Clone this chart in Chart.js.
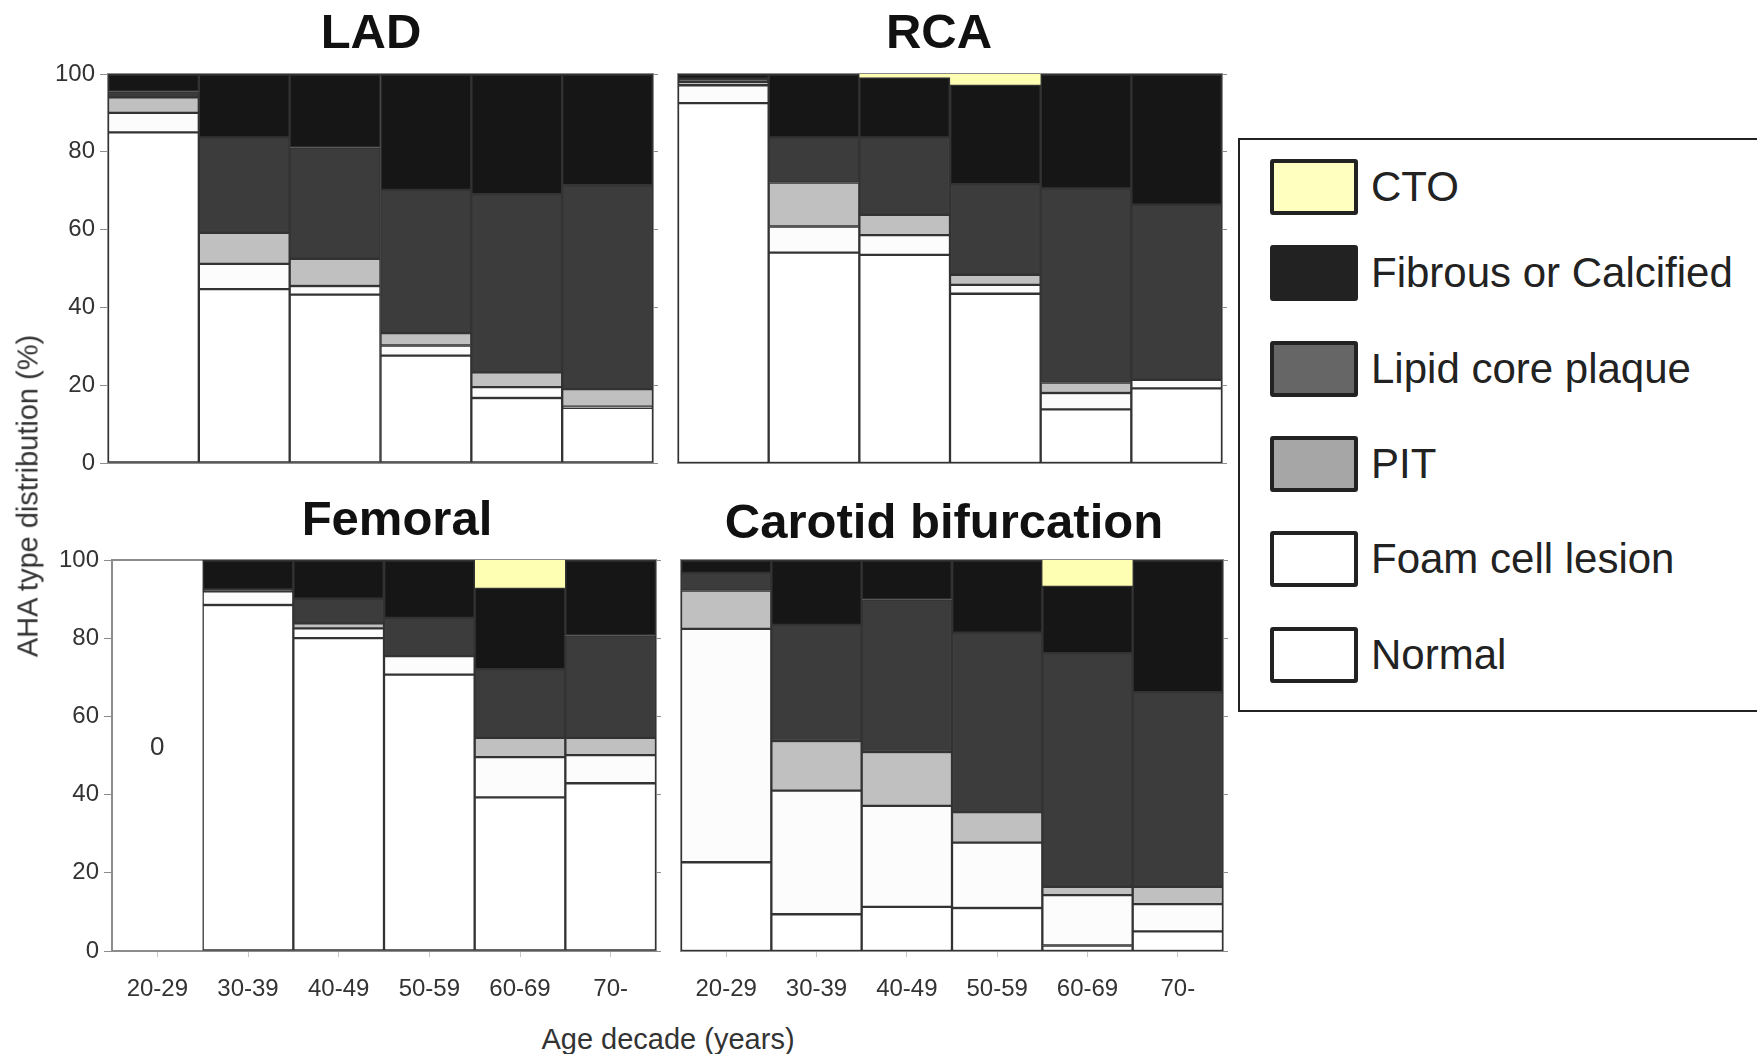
<!DOCTYPE html>
<html>
<head>
<meta charset="utf-8">
<script src="https://cdn.jsdelivr.net/npm/chart.js@4.4.1/dist/chart.umd.min.js"></script>
<style>
    body {
        margin: 0;
        background: #fff;
        width: 1757px;
        height: 1054px;
        overflow: hidden;
        position: relative;
        font-family: "Liberation Sans", Arial, sans-serif;
        color: #333;
    }
    canvas {
        position: absolute;
    }
    .panel-title {
        position: absolute;
        font-weight: bold;
        font-size: 49px;
        line-height: 1;
        color: #111;
        white-space: nowrap;
        transform: translate(-50%, -50%);
    }
    .axis-title {
        position: absolute;
        font-size: 29px;
        line-height: 1;
        white-space: nowrap;
        transform: translate(-50%, -50%);
    }
    #legend {
        position: absolute;
        left: 1238px;
        top: 138px;
        width: 600px;
        height: 570px;
        border: 2px solid #222;
    }
    .legend-item {
        position: absolute;
        left: 30px;
        height: 56px;
        display: flex;
        align-items: center;
        transform: translateY(-50%);
    }
    .legend-swatch {
        width: 80px;
        height: 48px;
        border: 4px solid #222;
        border-radius: 3px;
    }
    .legend-label {
        margin-left: 13px;
        font-size: 42px;
        color: #222;
        white-space: nowrap;
    }
</style>
</head>
<body>
<div id="legend"></div>
<script>
// age decades on the x axis
const ageGroups = ["20-29", "30-39", "40-49", "50-59", "60-69", "70-"];
const yTicks = [0, 20, 40, 60, 80, 100];

// series, bottom of the stack first
const seriesNames = ["Normal", "Foam cell lesion", "PIT", "Lipid core plaque", "Fibrous or Calcified", "CTO"];
const seriesColors = ["#ffffff", "#fcfcfc", "#c0c0c0", "#3c3c3c", "#161616", "#ffffb3"];

// legend, top to bottom as printed
const legendNames = ["CTO", "Fibrous or Calcified", "Lipid core plaque", "PIT", "Foam cell lesion", "Normal"];
const legendColors = ["#ffffc0", "#222222", "#666666", "#a6a6a6", "#ffffff", "#ffffff"];

// LAD (%)
const ladNormal = [85, 44.7, 43.3, 27.6, 16.7, 14.2];
const ladFoam = [5, 6.5, 2.2, 2.6, 2.8, 0.3];
const ladPit = [4, 8, 7, 3.2, 3.8, 4.5];
const ladLipid = [1.5, 24.5, 28.6, 36.8, 45.8, 52.4];
const ladFibrous = [4.5, 16.3, 18.9, 29.8, 30.9, 28.6];
const ladCto = [0, 0, 0, 0, 0, 0];

// RCA (%)
const rcaNormal = [92.5, 54.1, 53.5, 43.5, 13.8, 19.2];
const rcaFoam = [4.6, 6.7, 5.1, 2.3, 4.2, 2.2];
const rcaPit = [0.9, 11.3, 5.2, 2.6, 2.7, 0];
const rcaLipid = [0.8, 11.6, 19.9, 23.3, 49.9, 45];
const rcaFibrous = [1.2, 16.3, 15.4, 25.5, 29.4, 33.6];
const rcaCto = [0, 0, 0.9, 2.8, 0, 0];

// Femoral (%), no cases in 20-29
const femNormal = [0, 88.5, 80, 70.7, 39.3, 42.9];
const femFoam = [0, 3.5, 2.5, 4.7, 10.3, 7.2];
const femPit = [0, 0, 1.3, 0, 4.9, 4.4];
const femLipid = [0, 0.5, 6.3, 9.8, 17.6, 26.2];
const femFibrous = [0, 7.5, 9.9, 14.8, 20.8, 19.3];
const femCto = [0, 0, 0, 0, 7.1, 0];
const femNote = { text: "0", index: 0, value: 52 };

// Carotid bifurcation (%)
const carNormal = [22.7, 9.4, 11.3, 11, 1.4, 5];
const carFoam = [59.7, 31.6, 25.8, 16.7, 12.9, 7];
const carPit = [9.8, 12.7, 13.8, 7.8, 2.1, 4.4];
const carLipid = [4.5, 29.7, 39, 45.9, 59.8, 49.8];
const carFibrous = [3.3, 16.6, 10.1, 18.6, 17.2, 33.8];
const carCto = [0, 0, 0, 0, 6.6, 0];

const FONT = "'Liberation Sans', Arial, sans-serif";
const AXIS_COLOR = "#8c8c8c";

const noteLabel = {
    id: "noteLabel",
    afterDatasetsDraw(chart, args, opts) {
        if (!opts || !opts.text) return;
        const ctx = chart.ctx;
        ctx.save();
        ctx.font = "26px " + FONT;
        ctx.fillStyle = "#333";
        ctx.textAlign = "center";
        ctx.textBaseline = "middle";
        ctx.fillText(
            opts.text,
            chart.scales.x.getPixelForValue(opts.index),
            chart.scales.y.getPixelForValue(opts.value)
        );
        ctx.restore();
    },
};

function addText(cls, text, x, y, rotate) {
    var div = document.createElement("div");
    div.className = cls;
    div.textContent = text;
    div.style.left = x + "px";
    div.style.top = y + "px";
    if (rotate) div.style.transform = "translate(-50%, -50%) rotate(-90deg)";
    document.body.appendChild(div);
}

function makePanel(p) {
    const leftW = p.yLabels ? 70 : 10;
    const rightW = 14;
    const topPad = 24;
    const bottomH = p.xLabels ? 64 : 24;

    var canvas = document.createElement("canvas");
    canvas.width = p.right - p.left + leftW + rightW;
    canvas.height = p.bottom - p.top + topPad + bottomH;
    canvas.style.left = p.left - leftW + "px";
    canvas.style.top = p.top - topPad + "px";
    document.body.appendChild(canvas);

    const series = [p.normal, p.foam, p.pit, p.lipid, p.fibrous, p.cto];
    const datasets = series.map((vals, i) => ({
        label: seriesNames[i],
        data: vals.map((v) => (v === 0 ? null : v)),
        backgroundColor: seriesColors[i],
        borderColor: "#333",
        borderWidth: i === 5 ? 0 : 1.5,
        borderSkipped: false,
        barPercentage: 1,
        categoryPercentage: 1,
    }));

    new Chart(canvas, {
        type: "bar",
        data: { labels: ageGroups, datasets: datasets },
        options: {
            responsive: false,
            animation: false,
            layout: { autoPadding: false, padding: { top: topPad } },
            plugins: {
                legend: { display: false },
                tooltip: { enabled: false },
                noteLabel: p.note || {},
            },
            scales: {
                x: {
                    stacked: true,
                    offset: true,
                    grid: {
                        display: p.xLabels,
                        drawOnChartArea: false,
                        offset: false,
                        tickLength: 6,
                        color: "#c8c8c8",
                    },
                    border: { display: true, color: AXIS_COLOR, width: 2 },
                    ticks: {
                        display: p.xLabels,
                        color: "#333",
                        padding: 18,
                        font: { family: FONT, size: 24 },
                    },
                    afterFit: (s) => {
                        s.height = bottomH;
                    },
                },
                xTop: {
                    type: "category",
                    position: "top",
                    grid: { display: false },
                    ticks: { display: false },
                    border: { display: true, color: AXIS_COLOR, width: 2 },
                    afterFit: (s) => {
                        s.height = 0;
                    },
                },
                y: {
                    stacked: true,
                    min: 0,
                    max: 100,
                    afterBuildTicks: (s) => {
                        s.ticks = yTicks.map((v) => ({ value: v }));
                    },
                    grid: {
                        display: p.yLabels,
                        drawOnChartArea: false,
                        tickLength: 8,
                        color: AXIS_COLOR,
                    },
                    border: { display: true, color: AXIS_COLOR, width: 2 },
                    ticks: {
                        display: p.yLabels,
                        color: "#333",
                        padding: 5,
                        font: { family: FONT, size: 24 },
                    },
                    afterFit: (s) => {
                        s.width = leftW;
                    },
                },
                yRight: {
                    position: "right",
                    min: 0,
                    max: 100,
                    afterBuildTicks: (s) => {
                        s.ticks = yTicks.map((v) => ({ value: v }));
                    },
                    grid: { drawOnChartArea: false, tickLength: 5, color: AXIS_COLOR },
                    border: { display: true, color: AXIS_COLOR, width: 2 },
                    ticks: { display: false },
                    afterFit: (s) => {
                        s.width = rightW;
                    },
                },
            },
        },
        plugins: [noteLabel],
    });

    addText("panel-title", p.title, p.titleX, p.titleY);
}

function makeLegend() {
    const legend = document.getElementById("legend");
    const rowCenters = [47, 133, 229, 324, 419, 515];
    legendNames.forEach((name, i) => {
        var item = document.createElement("div");
        item.className = "legend-item";
        item.style.top = rowCenters[i] + "px";
        var sw = document.createElement("div");
        sw.className = "legend-swatch";
        sw.style.background = legendColors[i];
        var lab = document.createElement("div");
        lab.className = "legend-label";
        lab.textContent = name;
        item.appendChild(sw);
        item.appendChild(lab);
        legend.appendChild(item);
    });
}

makePanel({
    title: "LAD", titleX: 371, titleY: 31,
    left: 108, right: 653, top: 74, bottom: 463,
    yLabels: true, xLabels: false,
    normal: ladNormal, foam: ladFoam, pit: ladPit, lipid: ladLipid, fibrous: ladFibrous, cto: ladCto,
});
makePanel({
    title: "RCA", titleX: 939, titleY: 31,
    left: 678, right: 1222, top: 74, bottom: 463,
    yLabels: false, xLabels: false,
    normal: rcaNormal, foam: rcaFoam, pit: rcaPit, lipid: rcaLipid, fibrous: rcaFibrous, cto: rcaCto,
});
makePanel({
    title: "Femoral", titleX: 397, titleY: 518,
    left: 112, right: 656, top: 560, bottom: 951,
    yLabels: true, xLabels: true,
    normal: femNormal, foam: femFoam, pit: femPit, lipid: femLipid, fibrous: femFibrous, cto: femCto,
    note: femNote,
});
makePanel({
    title: "Carotid bifurcation", titleX: 944, titleY: 521,
    left: 681, right: 1223, top: 560, bottom: 951,
    yLabels: false, xLabels: true,
    normal: carNormal, foam: carFoam, pit: carPit, lipid: carLipid, fibrous: carFibrous, cto: carCto,
});

addText("axis-title", "AHA type distribution (%)", 28, 496, true);
addText("axis-title", "Age decade (years)", 668, 1039);
makeLegend();
</script>
</body>
</html>
